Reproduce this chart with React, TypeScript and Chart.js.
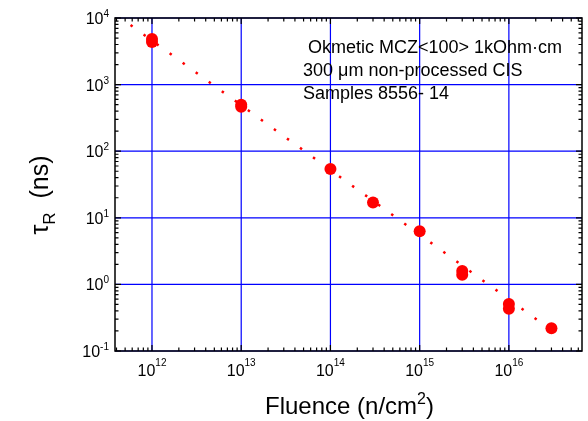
import { useEffect, useRef } from 'react';
import { Chart, registerables } from 'chart.js';

Chart.register(...registerables);

// ---- data ----
const fluence = [1e12, 1e12, 1e13, 1e13, 1e14, 3e14, 1e15, 3e15, 3e15, 1e16, 1e16, 3e16];
const tau = [4840, 4370, 500, 465, 54, 17, 6.3, 1.59, 1.4, 0.51, 0.43, 0.22];

const fitFluence = [5.75e11, 3.6e16];
const fitTau = [7850, 0.172];

const xRange = [3.85e11, 6.6e16];
const yRange = [0.1, 1e4];

const xMajorTicks = [1e12, 1e13, 1e14, 1e15, 1e16];
const xTickExponents = ['12', '13', '14', '15', '16'];
const yMajorTicks = [0.1, 1, 10, 100, 1000, 10000];
const yTickExponents = ['-1', '0', '1', '2', '3', '4'];
const minorMultipliers = [2, 3, 4, 5, 6, 7, 8, 9];
const xDecades = [11, 12, 13, 14, 15, 16];
const yDecades = [-1, 0, 1, 2, 3];

const annotationLines = [' Okmetic MCZ<100> 1kOhm·cm', '300 μm non-processed CIS', 'Samples 8556- 14'];
const xTitleParts = ['Fluence (n/cm', '2', ')'];
const yTitleParts = ['τ', 'R', '  (ns)'];

const FONT = '"Liberation Sans", Arial, Helvetica, sans-serif';

function drawPow(ctx: CanvasRenderingContext2D, base: string, exp: string, x: number, y: number,
  align: 'center' | 'right', baseSize: number, expSize: number, rise: number) {
  ctx.font = `${baseSize}px ${FONT}`;
  const wb = ctx.measureText(base).width;
  ctx.font = `${expSize}px ${FONT}`;
  const we = ctx.measureText(exp).width;
  const total = wb + we;
  const x0 = align === 'center' ? x - total / 2 : x - total;
  ctx.font = `${baseSize}px ${FONT}`;
  ctx.fillText(base, x0, y);
  ctx.font = `${expSize}px ${FONT}`;
  ctx.fillText(exp, x0 + wb, y - rise);
}

const framePlugin = {
  id: 'framePlugin',
  beforeDatasetsDraw(chart: any) {
    const { ctx, chartArea: a, scales } = chart;
    const x = scales.x, y = scales.y;
    ctx.save();
    ctx.strokeStyle = '#0000ff';
    ctx.lineWidth = 1.2;
    ctx.beginPath();
    for (const v of xMajorTicks) {
      const px = x.getPixelForValue(v);
      ctx.moveTo(px, a.top);
      ctx.lineTo(px, a.bottom);
    }
    for (const v of yMajorTicks) {
      const py = y.getPixelForValue(v);
      ctx.moveTo(a.left, py);
      ctx.lineTo(a.right, py);
    }
    ctx.stroke();
    ctx.restore();
  },
  afterDatasetsDraw(chart: any) {
    const { ctx, chartArea: a, scales } = chart;
    const x = scales.x, y = scales.y;
    ctx.save();
    ctx.strokeStyle = '#000';
    ctx.lineWidth = 1.5;
    ctx.strokeRect(a.left, a.top, a.right - a.left, a.bottom - a.top);

    const majLen = 6, minLen = 3.5;
    ctx.lineWidth = 1.2;
    ctx.beginPath();
    const xTick = (v: number, len: number) => {
      if (v < xRange[0] || v > xRange[1]) return;
      const px = x.getPixelForValue(v);
      ctx.moveTo(px, a.bottom); ctx.lineTo(px, a.bottom - len);
      ctx.moveTo(px, a.top); ctx.lineTo(px, a.top + len);
    };
    const yTick = (v: number, len: number) => {
      if (v < yRange[0] || v > yRange[1]) return;
      const py = y.getPixelForValue(v);
      ctx.moveTo(a.left, py); ctx.lineTo(a.left + len, py);
      ctx.moveTo(a.right, py); ctx.lineTo(a.right - len, py);
    };
    for (const v of xMajorTicks) xTick(v, majLen);
    for (const d of xDecades) for (const m of minorMultipliers) xTick(m * Math.pow(10, d), minLen);
    for (const v of yMajorTicks) yTick(v, majLen);
    for (const d of yDecades) for (const m of minorMultipliers) yTick(m * Math.pow(10, d), minLen);
    ctx.stroke();

    ctx.fillStyle = '#000';
    ctx.textAlign = 'left';
    ctx.textBaseline = 'alphabetic';
    // x tick labels
    xMajorTicks.forEach((v, i) => {
      drawPow(ctx, '10', xTickExponents[i], x.getPixelForValue(v), a.bottom + 25, 'center', 16, 10, 10);
    });
    // y tick labels
    yMajorTicks.forEach((v, i) => {
      drawPow(ctx, '10', yTickExponents[i], a.left - 6, y.getPixelForValue(v) + 6, 'right', 16, 10, 7);
    });

    // x title
    {
      const mainSize = 24, supSize = 16;
      ctx.font = `${mainSize}px ${FONT}`;
      const w1 = ctx.measureText(xTitleParts[0]).width;
      const w3 = ctx.measureText(xTitleParts[2]).width;
      ctx.font = `${supSize}px ${FONT}`;
      const w2 = ctx.measureText(xTitleParts[1]).width;
      const total = w1 + w2 + w3;
      const cx = (a.left + a.right) / 2 + 1;
      let xx = cx - total / 2;
      const by = 414;
      ctx.font = `${mainSize}px ${FONT}`;
      ctx.fillText(xTitleParts[0], xx, by); xx += w1;
      ctx.font = `${supSize}px ${FONT}`;
      ctx.fillText(xTitleParts[1], xx, by - 10); xx += w2;
      ctx.font = `${mainSize}px ${FONT}`;
      ctx.fillText(xTitleParts[2], xx, by);
    }

    // y title (rotated)
    {
      const mainSize = 25, subSize = 17;
      ctx.save();
      ctx.translate(48, 195);
      ctx.rotate(-Math.PI / 2);
      ctx.font = `${mainSize}px ${FONT}`;
      const w1 = ctx.measureText(yTitleParts[0]).width;
      const w3 = ctx.measureText(yTitleParts[2]).width;
      ctx.font = `${subSize}px ${FONT}`;
      const w2 = ctx.measureText(yTitleParts[1]).width;
      let xx = -(w1 + w2 + w3) / 2;
      ctx.font = `${mainSize}px ${FONT}`;
      ctx.fillText(yTitleParts[0], xx, 0); xx += w1;
      ctx.font = `${subSize}px ${FONT}`;
      ctx.fillText(yTitleParts[1], xx, 7); xx += w2;
      ctx.font = `${mainSize}px ${FONT}`;
      ctx.fillText(yTitleParts[2], xx, 0);
      ctx.restore();
    }

    // annotation
    ctx.font = `18px ${FONT}`;
    annotationLines.forEach((t, i) => {
      ctx.fillText(t, 303, 53 + i * 23);
    });
    ctx.restore();
  },
};

export default function App() {
  const ref = useRef<HTMLCanvasElement | null>(null);
  useEffect(() => {
    if (!ref.current) return;
    const chart = new Chart(ref.current, {
      type: 'scatter',
      data: {
        datasets: [
          {
            label: 'data',
            data: fluence.map((f, i) => ({ x: f, y: tau[i] })),
            backgroundColor: '#ff0000',
            borderColor: '#ff0000',
            pointRadius: 6,
            pointBorderWidth: 0,
            showLine: false,
          },
          {
            label: 'fit',
            data: fitFluence.map((f, i) => ({ x: f, y: fitTau[i] })),
            borderColor: '#ff0000',
            borderWidth: 2.5,
            borderDash: [2.5, 13.6],
            borderCapStyle: 'butt',
            pointRadius: 0,
            showLine: true,
            fill: false,
          },
        ],
      },
      options: {
        animation: false,
        responsive: false,
        devicePixelRatio: 1,
        layout: { padding: { left: 115, right: 1, top: 18, bottom: 70 } },
        plugins: { legend: { display: false }, tooltip: { enabled: false } },
        scales: {
          x: { type: 'logarithmic', min: xRange[0], max: xRange[1], display: false },
          y: { type: 'logarithmic', min: yRange[0], max: yRange[1], display: false },
        },
      } as any,
      plugins: [framePlugin],
    });
    return () => chart.destroy();
  }, []);
  return (
    <div style={{ position: 'fixed', left: 0, top: 0, width: 588, height: 421, background: '#fff' }}>
      <canvas ref={ref} width={588} height={421} style={{ display: 'block', width: 588, height: 421 }} />
    </div>
  );
}
